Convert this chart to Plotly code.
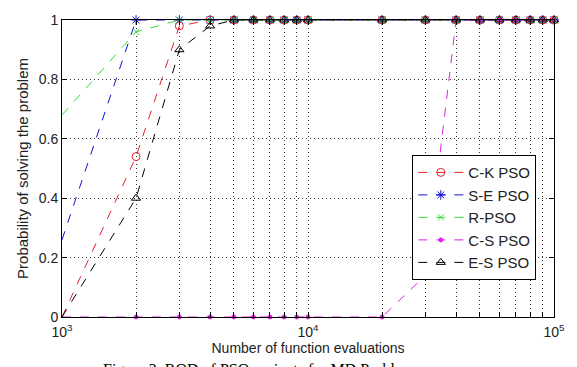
import plotly.graph_objects as go

evals = [1000, 2000, 3000, 4000, 5000, 6000, 7000, 8000, 9000, 10000,
         20000, 30000, 40000, 50000, 60000, 70000, 80000, 90000, 100000]
ck_pso = [0, 0.54, 0.98] + [1] * 16
se_pso = [0.26] + [1] * 18
r_pso = [0.68, 0.96] + [1] * 17
cs_pso = [0] * 11 + [0.14] + [1] * 7
es_pso = [0, 0.40, 0.90, 0.98] + [1] * 15

series = [
    ("C-K PSO", ck_pso, "#e8202a", "circle-open", 8),
    ("S-E PSO", se_pso, "#1010d8", "asterisk-open", 8),
    ("R-PSO", r_pso, "#33dd33", "x-thin-open", 6),
    ("C-S PSO", cs_pso, "#e020e0", "circle", 4),
    ("E-S PSO", es_pso, "#000000", "triangle-up-open", 8),
]

x_tickvals = evals
x_ticktext = ["10<sup>3</sup>" if v == 1000 else "10<sup>4</sup>" if v == 10000
              else "10<sup>5</sup>" if v == 100000 else "" for v in evals]
y_tickvals = [0, 0.2, 0.4, 0.6, 0.8, 1]
y_ticktext = ["0", "0.2", "0.4", "0.6", "0.8", "1"]

fig = go.Figure()
for name, vals, color, sym, size in series:
    fig.add_trace(go.Scatter(
        x=evals, y=vals, name=name, mode="lines+markers",
        line=dict(color=color, width=1, dash="dash"),
        marker=dict(symbol=sym, size=size, color=color,
                    line=dict(color=color, width=1)),
        cliponaxis=False,
    ))

font = "Liberation Sans, Arial, sans-serif"
grid_dash = "1px,3px"
fig.update_layout(
    width=577, height=367,
    margin=dict(l=62, r=16, t=14, b=50),
    paper_bgcolor="white", plot_bgcolor="white",
    font=dict(family=font, size=14, color="#222"),
    showlegend=True,
    legend=dict(x=0.712, y=0.545, xanchor="left", yanchor="top",
                bgcolor="white", bordercolor="black", borderwidth=1,
                font=dict(size=15, family=font, color="#222"),
                itemwidth=45, tracegroupgap=0),
    xaxis=dict(type="log", range=[3, 5], tickvals=x_tickvals, ticktext=x_ticktext,
               showgrid=True, gridcolor="#333", griddash=grid_dash, gridwidth=1,
               showline=True, linecolor="black", linewidth=1, mirror="allticks",
               ticks="inside", ticklen=5, tickcolor="black",
               zeroline=False, ticklabelstandoff=2,
               title=dict(text="Number of function evaluations", standoff=0,
                          font=dict(size=14))),
    yaxis=dict(range=[0, 1], tickvals=y_tickvals, ticktext=y_ticktext,
               showgrid=True, gridcolor="#333", griddash=grid_dash, gridwidth=1,
               showline=True, linecolor="black", linewidth=1, mirror="allticks",
               ticks="inside", ticklen=5, tickcolor="black",
               zeroline=False,
               title=dict(text="Probability of solving the problem", standoff=6,
                          font=dict(size=15))),
)

fig.add_annotation(
    text="Figure 3. ROD of PSO variants for MD Problem",
    xref="paper", yref="paper", x=0.40, y=-0.14, xanchor="center", yanchor="top",
    showarrow=False, font=dict(family="Liberation Serif, Times New Roman, serif",
                               size=16, color="black"),
)

fig.write_html("out.html")
